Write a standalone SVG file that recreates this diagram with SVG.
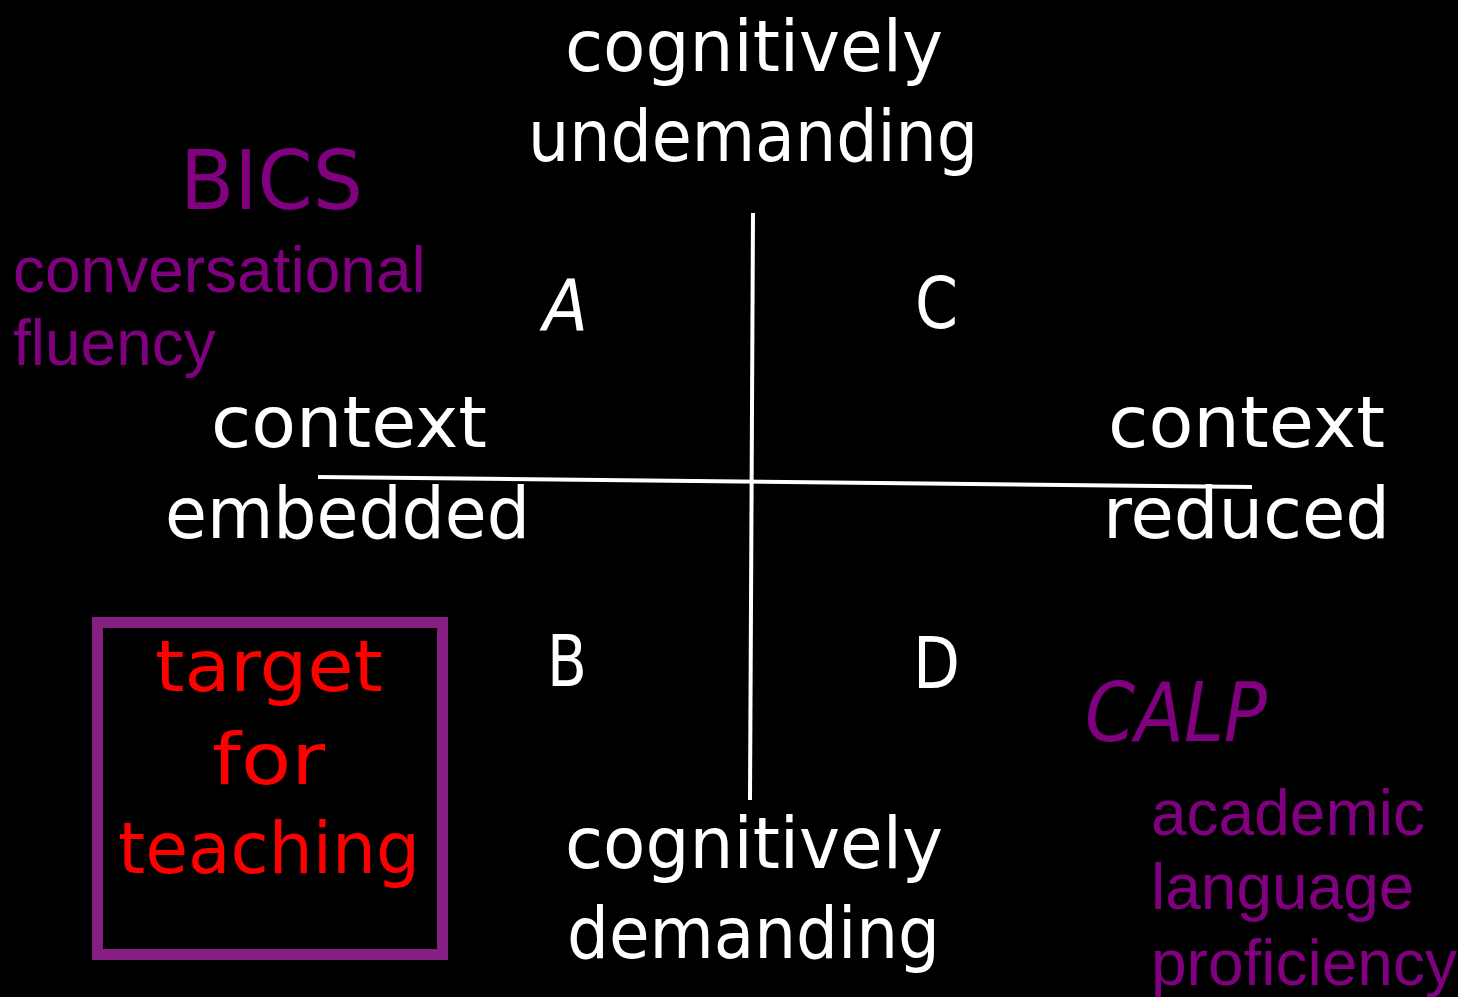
<svg xmlns="http://www.w3.org/2000/svg" width="1458" height="997" viewBox="0 0 1458 997">
<style>
.hand{font-family:"Comic Sans MS","DejaVu Sans",sans-serif;font-size:72px}
.w{fill:#ffffff}
.p{fill:#800080}
.r{fill:#ff0000}
.arial{font-family:"Liberation Sans",Arial,sans-serif;font-size:64px;fill:#800080}
.ax{stroke:#ffffff;stroke-width:4;fill:none}
</style>
<rect x="0" y="0" width="1458" height="997" fill="#000000"/>
<g id="connectors">
<line class="ax" x1="753" y1="213" x2="750" y2="800"/>
<line class="ax" x1="318" y1="477" x2="1252" y2="487"/>
</g>
<g id="top-label">
<text class="hand w" x="565" y="71" textLength="378" lengthAdjust="spacingAndGlyphs">cognitively</text>
<text class="hand w" x="528" y="161" textLength="450" lengthAdjust="spacingAndGlyphs">undemanding</text>
</g>
<g id="bottom-label">
<text class="hand w" x="565" y="868" textLength="378" lengthAdjust="spacingAndGlyphs">cognitively</text>
<text class="hand w" x="567" y="958" textLength="373" lengthAdjust="spacingAndGlyphs">demanding</text>
</g>
<g id="left-label">
<text class="hand w" x="211" y="447" textLength="276" lengthAdjust="spacingAndGlyphs">context</text>
<text class="hand w" x="165" y="538" textLength="365" lengthAdjust="spacingAndGlyphs">embedded</text>
</g>
<g id="right-label">
<text class="hand w" x="1108" y="447" textLength="277" lengthAdjust="spacingAndGlyphs">context</text>
<text class="hand w" x="1103" y="538" textLength="287" lengthAdjust="spacingAndGlyphs">reduced</text>
</g>
<g id="quadrant-A"><text class="hand w" x="543" y="330" textLength="45" lengthAdjust="spacingAndGlyphs" font-style="italic">A</text></g>
<g id="quadrant-C"><text class="hand w" x="915" y="328" textLength="43" lengthAdjust="spacingAndGlyphs">C</text></g>
<g id="quadrant-B"><text class="hand w" x="547" y="686" textLength="40" lengthAdjust="spacingAndGlyphs">B</text></g>
<g id="quadrant-D"><text class="hand w" x="913" y="688" textLength="47" lengthAdjust="spacingAndGlyphs">D</text></g>
<g id="bics">
<text class="hand p" x="180" y="209" font-size="82" style="font-size:82px" textLength="183" lengthAdjust="spacingAndGlyphs">BICS</text>
<text class="arial" x="13" y="292">conversational</text>
<text class="arial" x="13" y="365">fluency</text>
</g>
<g id="calp">
<text class="hand p" x="1085" y="741" style="font-size:82px;font-style:italic" textLength="182" lengthAdjust="spacingAndGlyphs">CALP</text>
<text class="arial" x="1151" y="835">academic</text>
<text class="arial" x="1151" y="909">language</text>
<text class="arial" x="1151" y="985">proficiency</text>
</g>
<g id="target-box">
<rect x="97.5" y="622.5" width="345" height="332" fill="none" stroke="#851f82" stroke-width="11"/>
<text class="hand r" x="155" y="691" textLength="228" lengthAdjust="spacingAndGlyphs">target</text>
<text class="hand r" x="212" y="784" textLength="113" lengthAdjust="spacingAndGlyphs">for</text>
<text class="hand r" x="118" y="873" textLength="302" lengthAdjust="spacingAndGlyphs">teaching</text>
</g>
</svg>
